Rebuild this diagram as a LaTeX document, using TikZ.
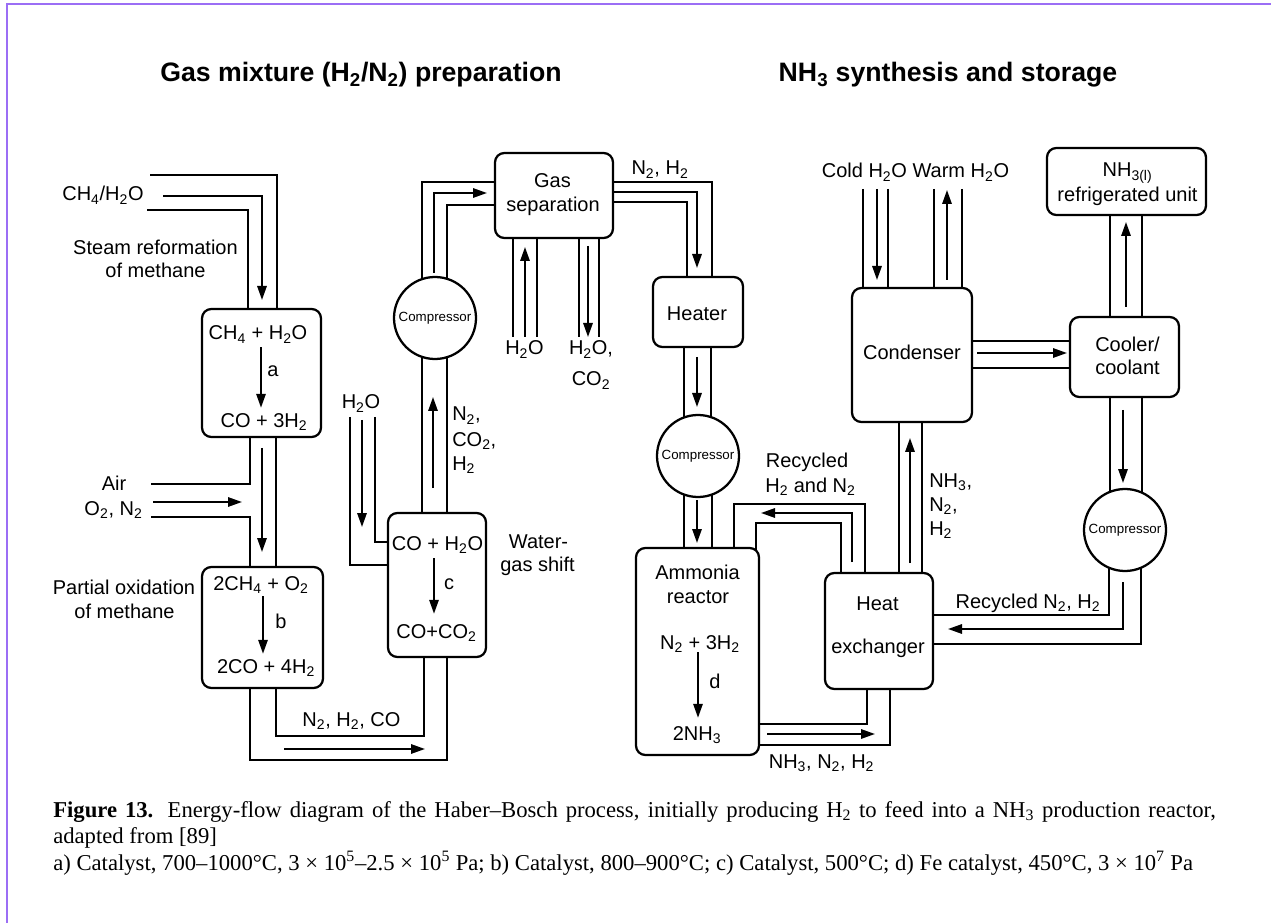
\documentclass[tikz,border=0pt]{standalone}
\usepackage{fontspec}
\setmainfont{Liberation Sans}
\newfontfamily\capfont{Liberation Serif}
\usetikzlibrary{arrows.meta,backgrounds}
\newdimen\pxu
\pxu=0.75pt
\newcommand{\ssub}[1]{\textsubscript{#1}}
\definecolor{framecol}{RGB}{155,110,245}
\begin{document}
\begin{tikzpicture}[x=0.75pt,y=-0.75pt,
 txt/.style={anchor=base, inner sep=0pt, font=\fontsize{15}{18}\selectfont},
 ttl/.style={anchor=base, inner sep=0pt, font=\bfseries\fontsize{20}{24}\selectfont},
 captext/.style={anchor=base west, inner sep=0pt, font=\capfont\fontsize{17}{20}\selectfont},
 box/.style={draw, line width=1.7pt, rounded corners=7pt, fill=white, inner sep=0pt, outer sep=0pt},
 comp/.style={draw, circle, line width=1.7pt, fill=white, inner sep=0pt, outer sep=0pt, minimum size=82\pxu, font=\fontsize{10}{12}\selectfont},
 pipe/.style={line width=1.4pt},
 flow/.style={line width=1.5pt, -{Triangle[length=10.5pt,width=7pt]}},
]
\useasboundingbox (0,0) rectangle (1271,923);
\begin{pgfonlayer}{background}
 \fill[white] (0,0) rectangle (1271,923);
 \draw[framecol, line width=1.5pt] (7,923) -- (7,4) -- (1271,4);
\end{pgfonlayer}

% boxes
\node[box, minimum width=119\pxu, minimum height=128\pxu] (A) at (261.5,373) {};
\node[box, minimum width=121\pxu, minimum height=121\pxu] (B) at (262.5,627.5) {};
\node[box, minimum width=98\pxu, minimum height=144\pxu] (C) at (437,585) {};
\node[box, minimum width=118\pxu, minimum height=85\pxu] (GS) at (554,195.5) {};
\node[box, minimum width=90\pxu, minimum height=70\pxu] (HT) at (698,312) {};
\node[box, minimum width=123\pxu, minimum height=207\pxu] (R) at (697.5,651.5) {};
\node[box, minimum width=108\pxu, minimum height=116\pxu] (HX) at (879,631) {};
\node[box, minimum width=120\pxu, minimum height=134\pxu] (CD) at (912,355) {};
\node[box, minimum width=109\pxu, minimum height=80\pxu] (CL) at (1124.5,357) {};
\node[box, minimum width=159\pxu, minimum height=67\pxu] (NU) at (1126.5,181.5) {};
\node[comp] (K1) at (435,318) {Compressor};
\node[comp] (K2) at (698,456) {Compressor};
\node[comp] (K3) at (1125,530) {Compressor};

% titles
\node[ttl] (t1) at (361,82) {Gas mixture (H\ssub{2}/N\ssub{2}) preparation};
\node[ttl] (t2) at (948,82) {NH\ssub{3} synthesis and storage};

% labels
\node[txt] (l1) at (103,201) {CH\ssub{4}/H\ssub{2}O};
\node[txt] (l2) at (155.5,255) {Steam reformation};
\node[txt] (l3) at (155.5,278) {of methane};
\node[txt] (l4) at (114,490) {Air};
\node[txt] (l5) at (113.5,515) {O\ssub{2}, N\ssub{2}};
\node[txt] (l6) at (124,594) {Partial oxidation};
\node[txt] (l7) at (124.5,618) {of methane};
\node[txt] (l8) at (351.5,726) {N\ssub{2}, H\ssub{2}, CO};
\node[txt] (a1) at (258,340) {CH\ssub{4} + H\ssub{2}O};
\node[txt] (a2) at (273,377) {a};
\node[txt] (a3) at (264,427) {CO + 3H\ssub{2}};
\node[txt] (b1) at (261,590) {2CH\ssub{4} + O\ssub{2}};
\node[txt] (b2) at (281,628) {b};
\node[txt] (b3) at (266,673) {2CO + 4H\ssub{2}};
\node[txt] (c1) at (437.5,550) {CO + H\ssub{2}O};
\node[txt] (c2) at (449,589) {c};
\node[txt] (c3) at (436.5,638) {CO+CO\ssub{2}};
\node[txt] (w1) at (538.5,548) {Water-};
\node[txt] (w2) at (537.5,571) {gas shift};
\node[txt] (h1) at (361,409) {H\ssub{2}O};
\node[txt, anchor=base west] (n1) at (452,421) {N\ssub{2},};
\node[txt, anchor=base west] (n2) at (452,446) {CO\ssub{2},};
\node[txt, anchor=base west] (n3) at (452,470) {H\ssub{2}};
\node[txt] (g1) at (552.5,188) {Gas};
\node[txt] (g2) at (553,212) {separation};
\node[txt] (g3) at (524.5,355) {H\ssub{2}O};
\node[txt] (g4) at (591,355) {H\ssub{2}O,};
\node[txt] (g5) at (591,386) {CO\ssub{2}};
\node[txt] (g6) at (660,175) {N\ssub{2}, H\ssub{2}};
\node[txt] (ht) at (697,321) {Heater};
\node[txt] (r1) at (697.5,579) {Ammonia};
\node[txt] (r2) at (698,603) {reactor};
\node[txt] (r3) at (700,649) {N\ssub{2} + 3H\ssub{2}};
\node[txt] (r4) at (715,688) {d};
\node[txt] (r5) at (697,740) {2NH\ssub{3}};
\node[txt] (rc1) at (807,468) {Recycled};
\node[txt] (rc2) at (810.5,492) {H\ssub{2} and N\ssub{2}};
\node[txt] (x1) at (877.5,610) {Heat};
\node[txt] (x2) at (878,653) {exchanger};
\node[txt] (x3) at (821.5,768) {NH\ssub{3}, N\ssub{2}, H\ssub{2}};
\node[txt, anchor=base west] (m1) at (929,487) {NH\ssub{3},};
\node[txt, anchor=base west] (m2) at (929,511) {N\ssub{2},};
\node[txt, anchor=base west] (m3) at (929,535) {H\ssub{2}};
\node[txt] (y1) at (1028,608) {Recycled N\ssub{2}, H\ssub{2}};
\node[txt] (cd) at (912,360) {Condenser};
\node[txt] (cw) at (915.5,178) {Cold H\ssub{2}O Warm H\ssub{2}O};
\node[txt] (cl1) at (1127.5,352) {Cooler/};
\node[txt] (cl2) at (1127.5,375) {coolant};
\node[txt] (nu1) at (1127.5,177) {NH\ssub{3(l)}};
\node[txt] (nu2) at (1127.5,202) {refrigerated unit};

% caption
\node[captext] (cap1) at (53,817) {\hbox to 872pt{\textbf{Figure 13.} Energy-flow diagram of the Haber–Bosch process, initially producing H\ssub{2} to feed into a NH\ssub{3} production reactor,}};
\node[captext] (cap2) at (53,843) {adapted from [89]};
\node[captext] (cap3) at (53,870) {a) Catalyst, 700–1000°C, 3 × 10\textsuperscript{5}–2.5 × 10\textsuperscript{5} Pa; b) Catalyst, 800–900°C; c) Catalyst, 500°C; d) Fe catalyst, 450°C, 3 × 10\textsuperscript{7} Pa};

% free ends
\coordinate (ch4o) at (150,175); \coordinate (ch4a) at (163,196); \coordinate (ch4i) at (147,210);
\coordinate (airo) at (151,484); \coordinate (aira) at (153,502); \coordinate (airi) at (151,517);
\coordinate (wso) at (350,417); \coordinate (wsa) at (362,420); \coordinate (wsi) at (375,417);
\coordinate (gsh1) at (513,337); \coordinate (gsh2) at (537,337); \coordinate (gsha) at (525,337);
\coordinate (gsc1) at (579,337); \coordinate (gsc2) at (599,337); \coordinate (gsca) at (588,337);
\coordinate (cw1) at (863,189); \coordinate (cw2) at (888,189); \coordinate (cwa) at (877,189);
\coordinate (ww1) at (934,189); \coordinate (ww2) at (962,189); \coordinate (wwa) at (947,190);
\coordinate (bca) at (284,749);

% pipes
\begin{pgfonlayer}{background}
\draw[pipe] (ch4o) -- (277,175) -- (277,0 |- A.north);
\draw[pipe] (ch4i) -- (248,210) -- (248,0 |- A.north);
\draw[pipe] (276,0 |- A.south) -- (276,0 |- B.north);
\draw[pipe] (250,0 |- A.south) -- (250,484) -- (airo);
\draw[pipe] (airi) -- (250,517) -- (250,0 |- B.north);
\draw[pipe] (250,0 |- B.south) -- (250,760) -- (447,760) -- (447,0 |- C.south);
\draw[pipe] (276,0 |- B.south) -- (276,736) -- (424,736) -- (424,0 |- C.south);
\draw[pipe] (wso) -- (350,565) -- (C.west |- 0,565);
\draw[pipe] (wsi) -- (375,542) -- (C.west |- 0,542);
\draw[pipe] (422,0 |- C.north) -- (422,0 |- K1.center);
\draw[pipe] (447,0 |- C.north) -- (447,0 |- K1.center);
\draw[pipe] (422,0 |- K1.center) -- (422,182) -- (GS.west |- 0,182);
\draw[pipe] (447,0 |- K1.center) -- (447,205) -- (GS.west |- 0,205);
\draw[pipe] (513,0 |- GS.south) -- (gsh1);
\draw[pipe] (537,0 |- GS.south) -- (gsh2);
\draw[pipe] (579,0 |- GS.south) -- (gsc1);
\draw[pipe] (599,0 |- GS.south) -- (gsc2);
\draw[pipe] (GS.east |- 0,182) -- (712,182) -- (712,0 |- HT.north);
\draw[pipe] (GS.east |- 0,202) -- (687,202) -- (687,0 |- HT.north);
\draw[pipe] (684,0 |- HT.south) -- (684,0 |- K2.center);
\draw[pipe] (711,0 |- HT.south) -- (711,0 |- K2.center);
\draw[pipe] (684,0 |- K2.center) -- (684,0 |- R.north);
\draw[pipe] (712,0 |- K2.center) -- (712,0 |- R.north);
\draw[pipe] (865,0 |- HX.north) -- (865,504) -- (734,504) -- (734,0 |- R.north);
\draw[pipe] (841,0 |- HX.north) -- (841,523) -- (756,523) -- (756,553);
\draw[pipe] (R.east |- 0,724) -- (867,724) -- (867,0 |- HX.south);
\draw[pipe] (R.east |- 0,745) -- (890,745) -- (890,0 |- HX.south);
\draw[pipe] (899,0 |- HX.north) -- (899,0 |- CD.south);
\draw[pipe] (922,0 |- HX.north) -- (922,0 |- CD.south);
\draw[pipe] (cw1) -- (863,0 |- CD.north);
\draw[pipe] (cw2) -- (888,0 |- CD.north);
\draw[pipe] (ww1) -- (934,0 |- CD.north);
\draw[pipe] (ww2) -- (962,0 |- CD.north);
\draw[pipe] (CD.east |- 0,341) -- (CL.west |- 0,341);
\draw[pipe] (CD.east |- 0,368) -- (CL.west |- 0,368);
\draw[pipe] (1110,0 |- CL.north) -- (1110,0 |- NU.south);
\draw[pipe] (1142,0 |- CL.north) -- (1142,0 |- NU.south);
\draw[pipe] (1110,0 |- CL.south) -- (1110,0 |- K3.center);
\draw[pipe] (1142,0 |- CL.south) -- (1142,0 |- K3.center);
\draw[pipe] (1109,0 |- K3.center) -- (1109,615) -- (HX.east |- 0,615);
\draw[pipe] (1141,0 |- K3.center) -- (1141,644) -- (HX.east |- 0,644);
\end{pgfonlayer}

% flow arrows
\draw[flow, shorten >=9\pxu] (ch4a) -- (262,196) -- (262,0 |- A.north);
\draw[flow, shorten <=11\pxu, shorten >=15\pxu] (262,0 |- A.south) -- (262,0 |- B.north);
\draw[flow, shorten >=8\pxu] (aira) -- (250,0 |- aira);
\draw[flow, shorten <=4\pxu, shorten >=5\pxu] (a1.south -| 261,0) -- (a3.north -| 261,0);
\draw[flow, shorten <=3\pxu, shorten >=5\pxu] (b1.south -| 263,0) -- (b3.north -| 263,0);
\draw[flow] (bca) -- ++(141,0);
\draw[flow] (wsa) -- ++(0,107);
\draw[flow, shorten <=5\pxu, shorten >=10\pxu] (c1.south -| 434,0) -- (c3.north -| 434,0);
\draw[flow, shorten <=25\pxu, shorten >=38\pxu] (433,0 |- C.north) -- (433,0 |- K1.south);
\draw[flow, shorten <=4\pxu, shorten >=8\pxu] (434,0 |- K1.north) -- (434,193) -- (GS.west |- 0,193);
\draw[flow, shorten >=9\pxu] (gsha) -- (525,0 |- GS.south);
\draw[flow, shorten <=8\pxu] (588,0 |- GS.south) -- (gsca);
\draw[flow, shorten >=9\pxu] (GS.east |- 0,192) -- (697,192) -- (697,0 |- HT.north);
\draw[flow, shorten <=10\pxu, shorten >=8\pxu] (697,0 |- HT.south) -- (697,0 |- K2.north);
\draw[flow, shorten <=3\pxu, shorten >=5\pxu] (697,0 |- K2.south) -- (697,0 |- R.north);
\draw[flow, shorten >=8\pxu] (r3.south -| 698,0) -- (r5.north -| 698,0);
\draw[flow, shorten <=11\pxu, shorten >=2\pxu] (852,0 |- HX.north) -- (852,513) -- (R.east |- 0,513);
\draw[flow, shorten <=8\pxu] (R.east |- 0,734) -- ++(116,0);
\draw[flow, shorten <=10\pxu, shorten >=16\pxu] (910,0 |- HX.north) -- (910,0 |- CD.south);
\draw[flow, shorten >=8\pxu] (cwa) -- (877,0 |- CD.north);
\draw[flow, shorten <=8\pxu] (947,0 |- CD.north) -- (wwa);
\draw[flow, shorten <=5\pxu, shorten >=3\pxu] (CD.east |- 0,353) -- (CL.west |- 0,353);
\draw[flow, shorten <=10\pxu, shorten >=7\pxu] (1126,0 |- CL.north) -- (1126,0 |- NU.south);
\draw[flow, shorten <=13\pxu, shorten >=6\pxu] (1123,0 |- CL.south) -- (1123,0 |- K3.north);
\draw[flow, shorten <=11\pxu, shorten >=15\pxu] (1123,0 |- K3.south) -- (1123,629) -- (HX.east |- 0,629);
\end{tikzpicture}
\end{document}
